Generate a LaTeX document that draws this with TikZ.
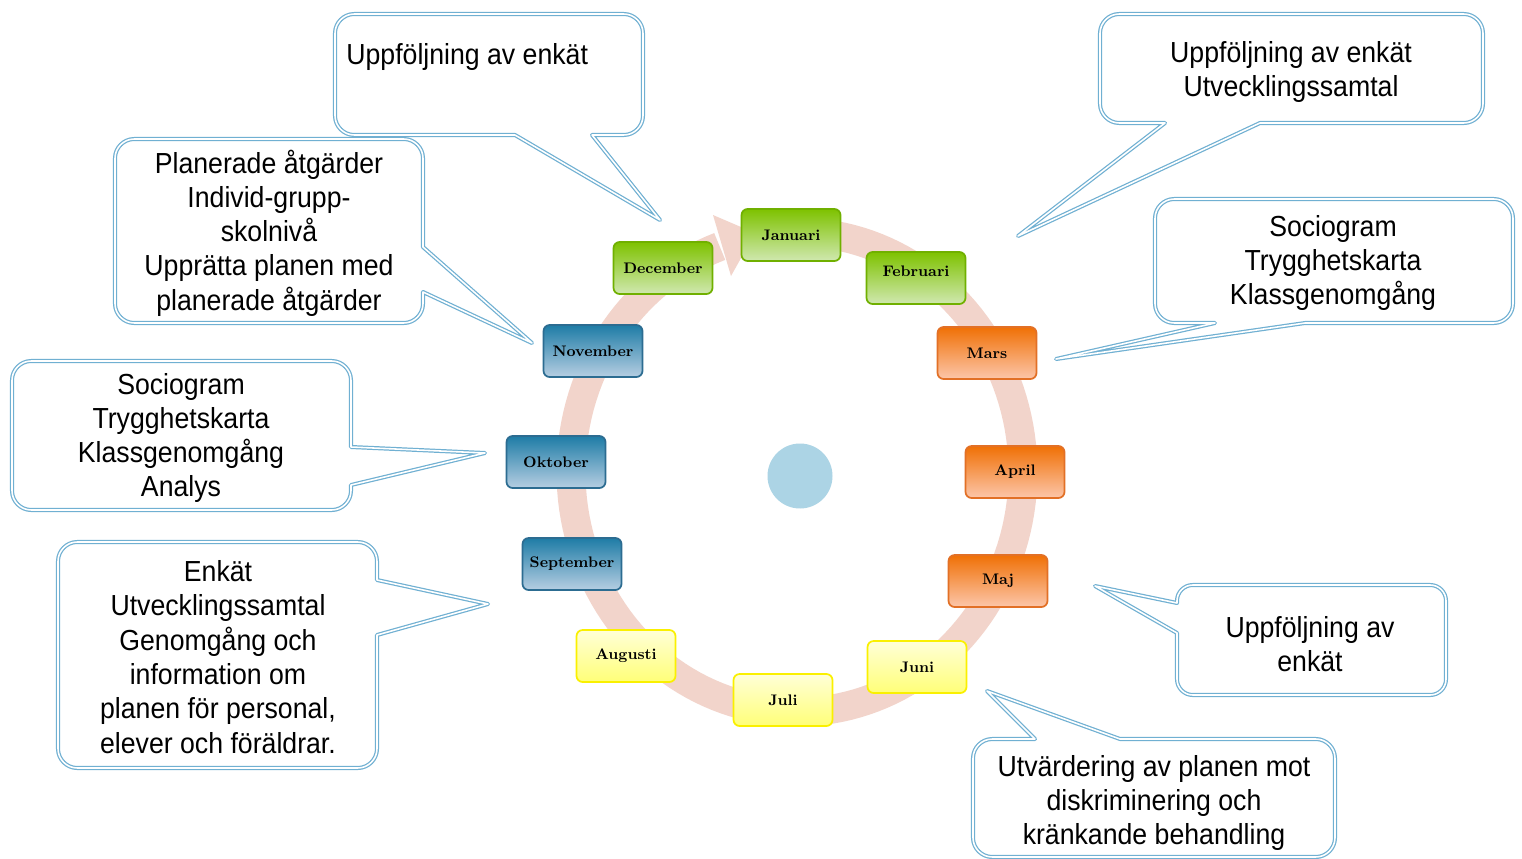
\documentclass[tikz,border=0pt]{standalone}
\usepackage{fontspec}
\usepackage{tikz}
\newfontfamily\bubblefont[FakeStretch=0.92]{Liberation Sans}
\definecolor{ringrosa}{RGB}{242,212,203}
\definecolor{prickbla}{RGB}{172,212,229}
\definecolor{bubblebla}{RGB}{112,176,210}
\definecolor{vintertopp}{RGB}{126,194,0}
\definecolor{vinterbotten}{RGB}{208,232,176}
\definecolor{vinterkant}{RGB}{112,176,0}
\definecolor{vartopp}{RGB}{240,112,5}
\definecolor{varbotten}{RGB}{252,198,170}
\definecolor{varkant}{RGB}{226,112,38}
\definecolor{sommartopp}{RGB}{255,255,215}
\definecolor{sommarbotten}{RGB}{255,255,120}
\definecolor{sommarkant}{RGB}{250,240,0}
\definecolor{hosttopp}{RGB}{30,124,166}
\definecolor{hostbotten}{RGB}{182,206,226}
\definecolor{hostkant}{RGB}{44,108,145}
\newcommand\manad[3]{\node[manad,#2] (#1) at (#3) {#1};}

\begin{document}
\begin{tikzpicture}[x=0.02cm,y=-0.02cm]
\tikzstyle{manad}=[rectangle,rounded corners=3.5pt,minimum width=1.98cm,minimum height=1.04cm,line width=1pt,inner sep=0pt,font=\fontsize{8.7}{10}\selectfont\bfseries]
\tikzstyle{vinter}=[draw=vinterkant,top color=vintertopp,bottom color=vinterbotten]
\tikzstyle{var}=[draw=varkant,top color=vartopp,bottom color=varbotten]
\tikzstyle{sommar}=[draw=sommarkant,top color=sommartopp,bottom color=sommarbotten]
\tikzstyle{host}=[draw=hostkant,top color=hosttopp,bottom color=hostbotten]
\tikzstyle{ring}=[draw=ringrosa,line width=0.58cm]
\tikzstyle{bubble}=[draw=bubblebla,double=white,double distance=0.9pt,line width=0.7pt,line join=round,fill=white,rounded corners=11pt]
\tikzstyle{bubbletext}=[align=center,inner sep=0pt,font=\bubblefont\fontsize{16.5}{19.5}\selectfont]
\fill[white] (0,0) rectangle (1522,859);
\useasboundingbox (0,0) rectangle (1522,859);

\draw[ring] plot[domain=-250:85,samples=150] ({797+226*cos(\x)},{472-240*sin(\x)});
\fill[ringrosa] (713,215) -- (755,233) -- (731,276) -- cycle;
\node[circle,fill=prickbla,minimum size=1.3cm,inner sep=0pt] (mitt) at (800,476) {};

\manad{Januari}{vinter}{791,235}
\manad{Februari}{vinter,text depth=7.5pt}{916,278}
\manad{Mars}{var}{987,353}
\manad{April}{var}{1015,472}
\manad{Maj}{var}{998,581}
\manad{Juni}{sommar}{917,667}
\manad{Juli}{sommar}{783,700}
\manad{Augusti}{sommar}{626,656}
\manad{September}{host}{572,564}
\manad{Oktober}{host}{556,462}
\manad{November}{host}{593,351}
\manad{December}{vinter}{663,268}

\draw[bubble] (489,14) -- (643,14) -- (643,135) [sharp corners] -- (592,135) -- (660,220) -- (515,135) [rounded corners=11pt] -- (335,135) -- (335,14) -- cycle;
\draw[bubble] (269,139) -- (423,139) [sharp corners] -- (423,247) -- (532,343) -- (423,292) [rounded corners=11pt] -- (423,323) -- (115,323) -- (115,139) -- cycle;
\draw[bubble] (181,361) -- (351,361) [sharp corners] -- (351,447) -- (485,453) -- (351,485) [rounded corners=11pt] -- (351,510) -- (12,510) -- (12,361) -- cycle;
\draw[bubble] (218,542) -- (377,542) [sharp corners] -- (377,580) -- (488,604) -- (377,635) [rounded corners=11pt] -- (377,768) -- (58,768) -- (58,542) -- cycle;
\draw[bubble] (1291,14) -- (1483,14) -- (1483,123) [sharp corners] -- (1260,123) -- (1018,236) -- (1165,123) [rounded corners=11pt] -- (1100,123) -- (1100,14) -- cycle;
\draw[bubble] (1333,199) -- (1513,199) -- (1513,323) [sharp corners] -- (1305,323) -- (1056,359) -- (1215,323) [rounded corners=11pt] -- (1155,323) -- (1155,199) -- cycle;
\draw[bubble,rounded corners=9pt] (1310,585) -- (1446,585) -- (1446,695) -- (1177,695) [sharp corners] -- (1177,633) -- (1095,586) -- (1177,603) [rounded corners=9pt] -- (1177,585) -- cycle;
\draw[bubble] (1154,857) -- (973,857) -- (973,739) [sharp corners] -- (1035,739) -- (987,691) -- (1120,739) [rounded corners=11pt] -- (1335,739) -- (1335,857) -- cycle;

\node[bubbletext,anchor=west] (enkat) at (346,57) {Uppföljning av enkät};
\node[bubbletext] (atgarder) at (269,233) {Planerade åtgärder\\Individ-grupp-\\skolnivå\\Upprätta planen med\\planerade åtgärder};
\node[bubbletext] (analys) at (181,438) {Sociogram\\Trygghetskarta\\Klassgenomgång\\Analys};
\node[bubbletext] (information) at (218,657) {Enkät\\Utvecklingssamtal\\Genomgång och\\information om\\planen för personal,\\elever och föräldrar.};
\node[bubbletext] (samtal) at (1291,72) {Uppföljning av enkät\\Utvecklingssamtal};
\node[bubbletext] (sociogram) at (1333,263) {Sociogram\\Trygghetskarta\\Klassgenomgång};
\node[bubbletext] (uppfoljning) at (1310,644) {Uppföljning av\\enkät};
\node[bubbletext] (utvardering) at (1154,803) {Utvärdering av planen mot\\diskriminering och\\kränkande behandling};
\end{tikzpicture}
\end{document}
